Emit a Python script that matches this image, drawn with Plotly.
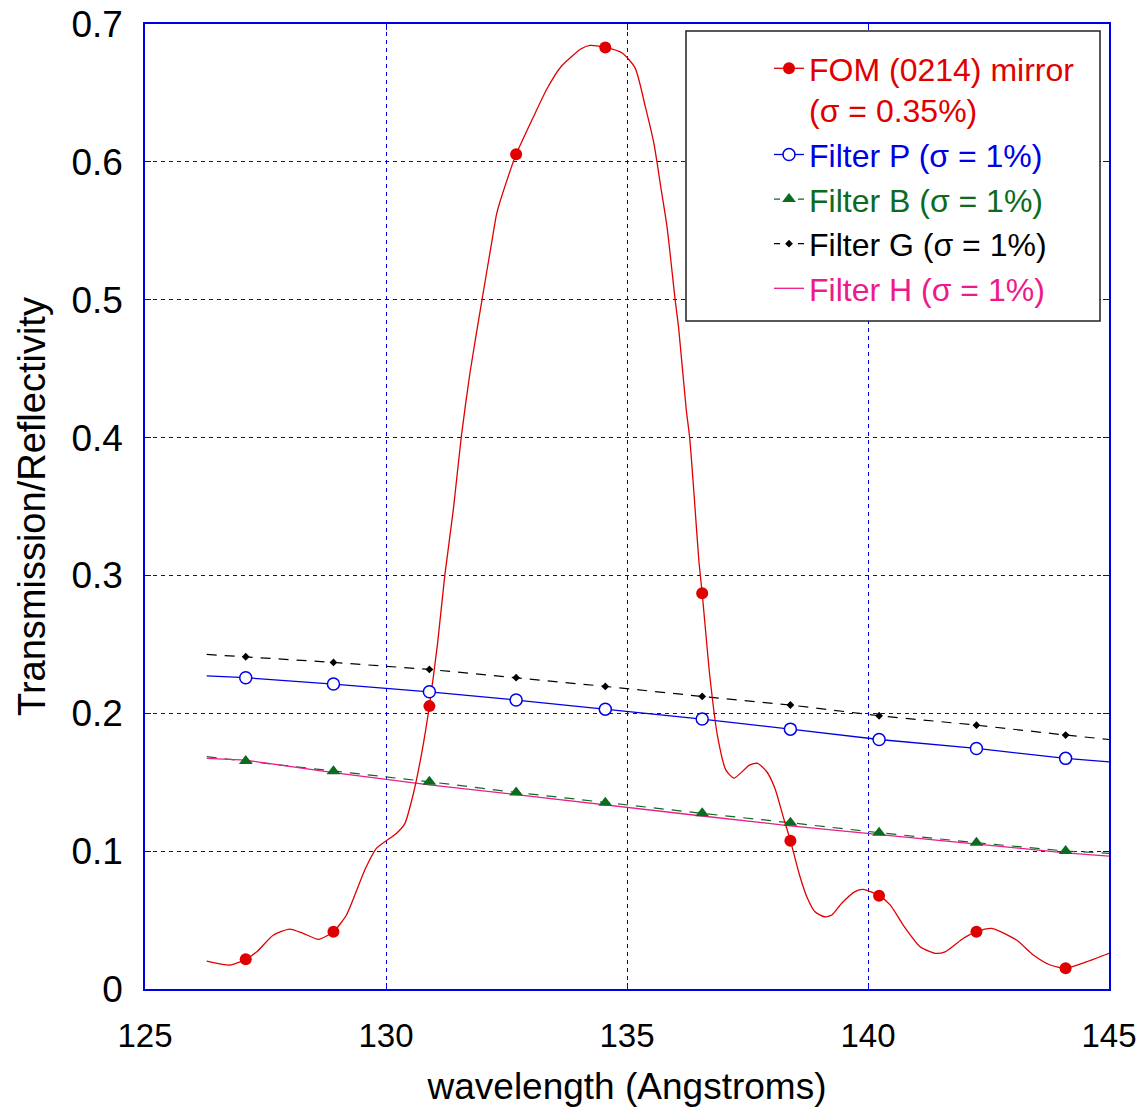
import plotly.graph_objects as go

# ---------------- data ----------------
# dense FOM mirror reflectivity curve
fom_wl = [126.28, 126.76, 127.09, 127.32, 127.66, 128.0, 128.28, 128.6, 128.91, 129.18,
          129.56, 129.8, 130.22, 130.39, 130.57, 130.74, 130.9, 131.07, 131.22, 131.4,
          131.56, 131.74, 131.99, 132.2, 132.3, 132.6, 132.7, 133.05, 133.34, 133.63,
          134.05, 134.23, 134.55, 134.9, 135.17, 135.38, 135.56, 135.7, 135.83, 136.0,
          136.07, 136.23, 136.3, 136.4, 136.49, 136.56, 136.72, 136.88, 137.05, 137.22,
          137.54, 137.71, 137.9, 138.07, 138.24, 138.39, 138.59, 138.73, 138.9, 139.1,
          139.25, 139.45, 139.73, 139.9, 140.23, 140.46, 140.73, 141.08, 141.39, 141.6,
          141.98, 142.25, 142.57, 143.08, 143.43, 143.78, 144.1, 144.54, 145.0]
fom_val = [0.0203, 0.0174, 0.0215, 0.027, 0.039, 0.0435, 0.0404, 0.036, 0.0416, 0.0537,
           0.0863, 0.102, 0.113, 0.120, 0.142, 0.171, 0.2052, 0.2507, 0.300, 0.3486,
           0.400, 0.4465, 0.4996, 0.543, 0.563, 0.596, 0.6055, 0.632, 0.653, 0.669,
           0.682, 0.6845, 0.683, 0.679, 0.668, 0.640, 0.613, 0.582, 0.553, 0.4996,
           0.48, 0.42, 0.40, 0.3546, 0.311, 0.287, 0.2265, 0.183, 0.159, 0.153,
           0.1624, 0.1637, 0.1576, 0.1455, 0.125, 0.1076, 0.0814, 0.067, 0.056, 0.0524,
           0.0537, 0.062, 0.0706, 0.0723, 0.0677, 0.061, 0.0464, 0.0307, 0.0259, 0.027,
           0.0368, 0.0416, 0.044, 0.0355, 0.0247, 0.0174, 0.015, 0.0198, 0.0259]

# marker wavelengths (common to all marked series)
mark_wl = [127.09, 128.91, 130.9, 132.7, 134.55, 136.56, 138.39, 140.23, 142.25, 144.1]
fom_mark = [0.0215, 0.0416, 0.2052, 0.6055, 0.683, 0.287, 0.1076, 0.0677, 0.0416, 0.015]

# filter transmission curves (start, marker positions, end)
filt_wl = [126.28] + mark_wl + [145.0]
filter_p = [0.2272, 0.2258, 0.2212, 0.2156, 0.2096, 0.2030, 0.1958, 0.1885, 0.181, 0.1745, 0.1673, 0.1648]
filter_b = [0.1685, 0.1653, 0.158, 0.1503, 0.1426, 0.1351, 0.1274, 0.1206, 0.1134, 0.1061, 0.1001, 0.0984]
filter_g = [0.2427, 0.241, 0.2369, 0.2318, 0.2258, 0.2195, 0.2122, 0.206, 0.1982, 0.1914, 0.1842, 0.181]
filter_h = [0.1673, 0.166, 0.157, 0.148, 0.141, 0.1334, 0.1255, 0.1184, 0.1122, 0.1049, 0.0988, 0.0964]

x_ticks = [125, 130, 135, 140, 145]
y_ticks = [0, 0.1, 0.2, 0.3, 0.4, 0.5, 0.6, 0.7]
y_tick_text = ["0", "0.1", "0.2", "0.3", "0.4", "0.5", "0.6", "0.7"]

names = ["FOM (0214) mirror<br>(σ = 0.35%)", "Filter P (σ = 1%)", "Filter B (σ = 1%)",
         "Filter G (σ = 1%)", "Filter H (σ = 1%)"]

# ---------------- styles ----------------
RED = "#e00000"
BLUE = "#0000e6"
GREEN = "#0b6b1f"
BLACK = "#000000"
PINK = "#ee1a8c"
FONT = "Liberation Sans, Arial, sans-serif"

fig = go.Figure()

# lines
fig.add_trace(go.Scatter(x=filt_wl, y=filter_b, mode="lines", showlegend=False, hoverinfo="skip",
                         line=dict(color=GREEN, width=1.2, dash="10px,8px")))
fig.add_trace(go.Scatter(x=filt_wl, y=filter_g, mode="lines", showlegend=False, hoverinfo="skip",
                         line=dict(color=BLACK, width=1.2, dash="10px,8px")))
fig.add_trace(go.Scatter(x=filt_wl, y=filter_h, mode="lines", showlegend=False, hoverinfo="skip",
                         line=dict(color=PINK, width=1.3)))
fig.add_trace(go.Scatter(x=filt_wl, y=filter_p, mode="lines", showlegend=False, hoverinfo="skip",
                         line=dict(color=BLUE, width=1.3)))
fig.add_trace(go.Scatter(x=fom_wl, y=fom_val, mode="lines", showlegend=False, hoverinfo="skip",
                         line=dict(color=RED, width=1.3, shape="spline", smoothing=0.6)))

# markers
fig.add_trace(go.Scatter(x=filt_wl[1:-1], y=filter_b[1:-1], mode="markers", showlegend=False,
                         marker=dict(symbol="triangle-up", size=12, color=GREEN)))
fig.add_trace(go.Scatter(x=filt_wl[1:-1], y=filter_g[1:-1], mode="markers", showlegend=False,
                         marker=dict(symbol="diamond", size=6, color=BLACK)))
fig.add_trace(go.Scatter(x=filt_wl[1:-1], y=filter_p[1:-1], mode="markers", showlegend=False,
                         marker=dict(symbol="circle", size=12, color="white",
                                     line=dict(color=BLUE, width=1.5))))
fig.add_trace(go.Scatter(x=mark_wl, y=fom_mark, mode="markers", showlegend=False,
                         marker=dict(symbol="circle", size=12, color=RED)))

# legend entries
leg = [
    (names[0], RED, dict(color=RED, width=1.3), dict(symbol="circle", size=12, color=RED)),
    (names[1], BLUE, dict(color=BLUE, width=1.3),
     dict(symbol="circle", size=12, color="white", line=dict(color=BLUE, width=1.5))),
    (names[2], GREEN, dict(color=GREEN, width=1.2, dash="6px,6px"),
     dict(symbol="triangle-up", size=12, color=GREEN)),
    (names[3], BLACK, dict(color=BLACK, width=1.2, dash="6px,6px"),
     dict(symbol="diamond", size=6, color=BLACK)),
    (names[4], PINK, dict(color=PINK, width=1.3), None),
]
for nm, col, ln, mk in leg:
    label = "<br>".join(f'<span style="color:{col}">{part}</span>' for part in nm.split("<br>"))
    if mk is None:
        fig.add_trace(go.Scatter(x=[None], y=[None], mode="lines", name=label, line=ln))
    else:
        fig.add_trace(go.Scatter(x=[None], y=[None], mode="lines+markers", name=label,
                                 line=ln, marker=mk))

# the page body margin is removed (post_script), so figure pixels == page pixels
W, H = 1146, 1110
PL, PR, PT, PB = 145, 1109, 24, 989          # plot area in page pixels
L, T, R, B = PL, PT, W - PR, H - PB
pw, ph = W - L - R, H - T - B

def px2paper_x(px):
    return (px - PL) / pw

def px2paper_y(py):
    return (PB - py) / ph

# legend box
fig.add_shape(type="rect", xref="paper", yref="paper",
              x0=px2paper_x(686), x1=px2paper_x(1100), y0=px2paper_y(321), y1=px2paper_y(31),
              line=dict(color="#222222", width=1.5), fillcolor="white", layer="above")

axis_common = dict(
    showline=True, mirror="ticks", linecolor=BLUE, linewidth=1.5,
    ticks="inside", ticklen=6, tickwidth=1.2, tickcolor=BLUE,
    showgrid=True, gridcolor=BLUE, gridwidth=1, griddash="4px,4px",
    zeroline=False, ticklabeloverflow="allow",
)

fig.update_layout(
    width=W, height=H,
    margin=dict(l=L, r=R, t=T, b=B, autoexpand=False),
    paper_bgcolor="white", plot_bgcolor="white",
    font=dict(family=FONT, color="black"),
    xaxis=dict(range=[125, 145], tickvals=x_ticks, ticktext=[str(v) for v in x_ticks],
               tickfont=dict(family=FONT, size=33, color="black"),
               title=dict(text="wavelength (Angstroms)", font=dict(family=FONT, size=37), standoff=20),
               ticklabelstandoff=17, **axis_common),
    yaxis=dict(range=[0, 0.7], tickvals=y_ticks, ticktext=y_tick_text,
               tickfont=dict(family=FONT, size=37, color="black"),
               title=dict(text="Transmission/Reflectivity", font=dict(family=FONT, size=38), standoff=14),
               ticklabelstandoff=13, **axis_common),
    legend=dict(x=px2paper_x(769), y=px2paper_y(41), xanchor="left", yanchor="top",
                bgcolor="rgba(0,0,0,0)", borderwidth=0, valign="top",
                font=dict(family=FONT, size=32), tracegroupgap=0),
    showlegend=True,
)

fig.write_html("out.html", config={"displayModeBar": False},
               post_script="document.body.style.margin='0';document.body.style.overflow='hidden';")
